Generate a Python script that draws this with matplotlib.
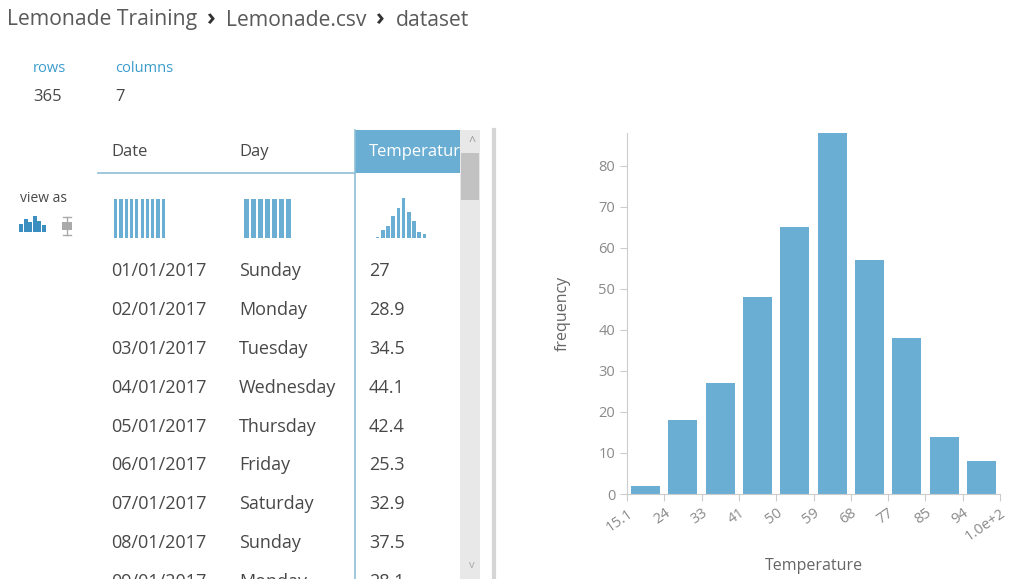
import matplotlib
matplotlib.use('Agg')
import matplotlib.pyplot as plt
from matplotlib.patches import Rectangle

plt.rcParams['font.family'] = ['Open Sans', 'DejaVu Sans']

# data
bin_labels = ['15.1', '24', '33', '41', '50', '59', '68', '77', '85', '94', '1.0e+2']
hist_counts = [2, 18, 27, 48, 65, 88, 57, 38, 14, 8]

n_rows = 365
n_cols = 7
columns = ['Date', 'Day', 'Temperatur']
dates = ['01/01/2017', '02/01/2017', '03/01/2017', '04/01/2017', '05/01/2017',
         '06/01/2017', '07/01/2017', '08/01/2017', '09/01/2017']
days = ['Sunday', 'Monday', 'Tuesday', 'Wednesday', 'Thursday',
        'Friday', 'Saturday', 'Sunday', 'Monday']
temps = ['27', '28.9', '34.5', '44.1', '42.4', '25.3', '32.9', '37.5', '28.1']

W, H = 1013, 579
BLUE = '#6aafd3'
TXT = '#484848'
GREY = '#8a8a8a'

fig = plt.figure(figsize=(W / 100, H / 100), dpi=100)


def px_axes(x0, y0, x1, y1):
    # axes from pixel box (top-left origin)
    return fig.add_axes([x0 / W, 1 - y1 / H, (x1 - x0) / W, (y1 - y0) / H])


# overlay in pixel coordinates for the page part
bg = fig.add_axes([0, 0, 1, 1])
bg.set_xlim(0, W)
bg.set_ylim(H, 0)
bg.axis('off')

# breadcrumb
crumbs = ['Lemonade Training', 'Lemonade.csv', 'dataset']
x = 7
for i, c in enumerate(crumbs):
    t = bg.text(x, 20, c, fontsize=15.2, color='#5a5a5a', va='center', ha='left')
    fig.canvas.draw()
    bb = t.get_window_extent()
    x = x + bb.width + 9
    if i < len(crumbs) - 1:
        bg.text(x, 19, '›', fontsize=17, fontweight='bold', color='#333333',
                va='center', ha='left')
        x = x + 20

bg.text(33, 68, 'rows', fontsize=10.5, color='#3b9ccc', va='center')
bg.text(115, 68, 'columns', fontsize=10.5, color='#3b9ccc', va='center')
bg.text(33, 97, str(n_rows), fontsize=12, color=TXT, va='center')
bg.text(115, 97, str(n_cols), fontsize=12, color=TXT, va='center')

bg.text(20, 198, 'view as', fontsize=10, color=TXT, va='center')

# table header
bg.add_patch(Rectangle((355, 130), 105, 43, color=BLUE, lw=0))
bg.text(111, 152, columns[0], fontsize=12, color=TXT, va='center')
bg.text(239, 152, columns[1], fontsize=12, color=TXT, va='center')
bg.text(369, 152, columns[2], fontsize=12, color='white', va='center', clip_on=True)
bg.plot([98, 355], [173, 173], color='#8fbfd6', lw=1.2)
bg.plot([355, 355], [130, 579], color='#8fbfd6', lw=1.2)

# scrollbar
bg.add_patch(Rectangle((460, 130), 20, 449, color='#e8e8e8', lw=0))
bg.add_patch(Rectangle((461, 153), 18, 47, color='#c2c2c2', lw=0))
bg.text(472, 142, '^', fontsize=9, color='#999999', ha='center', va='center')
bg.text(472, 566, 'v', fontsize=8, color='#aaaaaa', ha='center', va='center')
bg.plot([494, 494], [130, 579], color='#d5d5d5', lw=3)

# table rows (last one is cut by the bottom edge, as in the screenshot)
y0, dy = 271, 38.9
for i in range(len(dates)):
    y = y0 + i * dy
    bg.text(111, y, dates[i], fontsize=13, color=TXT, va='center')
    bg.text(239, y, days[i], fontsize=13, color=TXT, va='center')
    bg.text(369, y, temps[i], fontsize=13, color=TXT, va='center')

# mini charts in the column headers
a = px_axes(113, 199, 166, 238)
a.bar(range(10), [1] * 10, width=0.6, color=BLUE)
a.set_xlim(-0.5, 9.5)
a.set_ylim(0, 1)
a.axis('off')

a = px_axes(243, 199, 292, 238)
a.bar(range(7), [1] * 7, width=0.6, color=BLUE)
a.set_xlim(-0.5, 6.5)
a.set_ylim(0, 1)
a.axis('off')

a = px_axes(375, 198, 427, 238)
a.bar(range(len(hist_counts)), hist_counts, width=0.7, color=BLUE)
a.set_xlim(-0.5, len(hist_counts) - 0.5)
a.set_ylim(0, max(hist_counts))
a.axis('off')

# view-as icons
a = px_axes(19, 216, 46, 232)
a.bar(range(6), [0.5, 0.8, 0.6, 1.0, 0.7, 0.45], width=0.9, color='#3a8fc0')
a.set_xlim(-0.5, 5.5)
a.set_ylim(0, 1)
a.axis('off')
bg.plot([67, 67], [217, 235], color='#aaaaaa', lw=1)
bg.plot([63, 71], [217, 217], color='#aaaaaa', lw=1)
bg.plot([63, 71], [235, 235], color='#aaaaaa', lw=1)
bg.add_patch(Rectangle((62, 222), 10, 8, color='#aaaaaa', lw=0))

# histogram
ax = px_axes(627, 133, 1000, 494)
ax.bar([i + 0.5 for i in range(len(hist_counts))], hist_counts, width=0.78,
       color=BLUE)
ax.set_xlim(0, len(hist_counts))
ax.set_ylim(0, 88)
ax.set_yticks(range(0, 90, 10))
ax.set_xticks(range(len(bin_labels)))
ax.set_xticklabels(bin_labels, rotation=35, ha='right', rotation_mode='anchor')
for s in ['top', 'right']:
    ax.spines[s].set_visible(False)
for s in ['left', 'bottom']:
    ax.spines[s].set_color('#cccccc')
ax.tick_params(colors='#cccccc', labelcolor=GREY, labelsize=10.5, length=5)
ax.set_ylabel('frequency', fontsize=11.5, color='#666666', labelpad=20)
ax.set_xlabel('Temperature', fontsize=11.5, color='#666666', labelpad=10)

fig.savefig('out.png', dpi=100, facecolor='white')
